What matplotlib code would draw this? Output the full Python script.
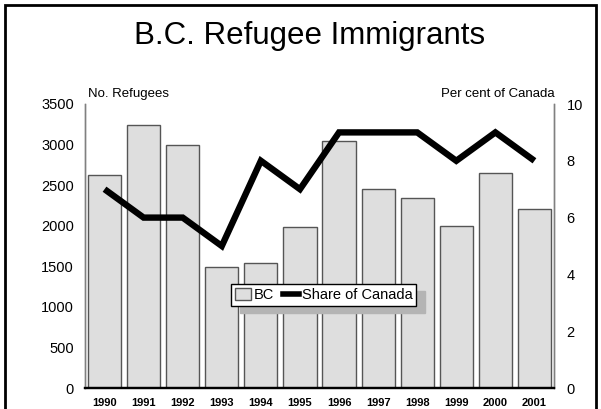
import matplotlib

matplotlib.use("Agg")
import matplotlib.pyplot as plt
from matplotlib.patches import Rectangle
from matplotlib.lines import Line2D

plt.rcParams["font.family"] = ["Liberation Sans", "DejaVu Sans"]

years = ["1990", "1991", "1992", "1993", "1994", "1995",
         "1996", "1997", "1998", "1999", "2000", "2001"]
bc_refugees = [2620, 3245, 3000, 1490, 1545, 1985, 3040, 2455, 2345, 1995, 2650, 2205]
share_canada = [7, 6, 6, 5, 8, 7, 9, 9, 9, 8, 9, 8]

W, H = 601, 409
fig = plt.figure(figsize=(W / 100, H / 100), dpi=100)

# axes box in pixel terms: x 85..554, y 104..388 (from top)
ax = fig.add_axes([85 / W, (H - 388) / H, (554 - 85) / W, (388 - 104) / H])
ax2 = ax.twinx()

x = range(len(years))
ax.bar(x, bc_refugees, width=0.85, color="#dedede", edgecolor="#555555", linewidth=1.0, zorder=2)
ax2.plot(x, share_canada, color="black", lw=4.6, solid_joinstyle="miter", solid_capstyle="butt", zorder=3)

ax.set_xlim(-0.5, len(years) - 0.5)
ax.set_ylim(0, 3500)
ax.set_yticks(range(0, 3501, 500))
ax2.set_ylim(0, 10)
ax2.set_yticks(range(0, 11, 2))
ax.set_xticks(list(x))
ax.set_xticklabels(years, fontsize=8, fontweight="bold")

ax.tick_params(axis="y", length=0, pad=8, labelsize=10.5)
ax.tick_params(axis="x", length=0, pad=7.5)
ax2.tick_params(axis="y", length=0, pad=9, labelsize=10.5)

for a in (ax, ax2):
    a.spines["top"].set_visible(False)
    a.spines["left"].set_color("#808080")
    a.spines["right"].set_color("#808080")
    a.spines["left"].set_linewidth(1.0)
    a.spines["right"].set_linewidth(1.0)
    a.spines["bottom"].set_color("black")
    a.spines["bottom"].set_linewidth(1.6)

fig.text(310 / W, (H - 44) / H, "B.C. Refugee Immigrants", fontsize=22.5, ha="center", va="baseline")
fig.text(88 / W, (H - 97) / H, "No. Refugees", fontsize=9.5, ha="left", va="baseline")
fig.text(555 / W, (H - 97) / H, "Per cent of Canada", fontsize=9.5, ha="right", va="baseline")

# outer frame
fig.patches.append(Rectangle((5 / W, -0.05), (596 - 5) / W, 1.05 - 5 / H,
                             transform=fig.transFigure, fill=False, edgecolor="black", lw=2.0))

handles = [Rectangle((0, 0), 1, 1, facecolor="#dedede", edgecolor="#555555", lw=1.0),
           Line2D([], [], color="black", lw=4)]
leg = ax2.legend(handles, ["BC", "Share of Canada"], loc="center", bbox_to_anchor=(0.509, 0.327),
                 ncol=2, fontsize=10.5, frameon=True, fancybox=False, edgecolor="black",
                 handlelength=1.1, handleheight=0.8, handletextpad=0.2, columnspacing=0.6,
                 borderpad=0.25, borderaxespad=0,
                 shadow={"ox": 6, "oy": -5, "color": "#b4b4b4", "alpha": 1})
leg.get_frame().set_linewidth(1.0)
leg.set_zorder(10)

fig.savefig("out.png", dpi=100)
